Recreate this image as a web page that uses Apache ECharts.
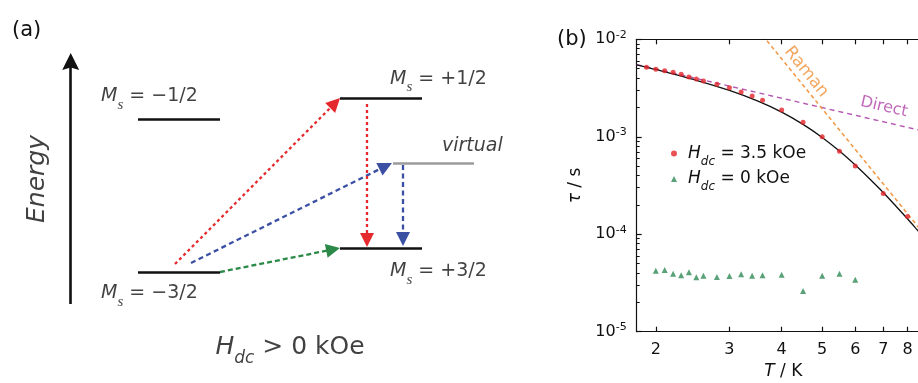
<!DOCTYPE html>
<html><head><meta charset="utf-8">
<script src="https://cdn.jsdelivr.net/npm/echarts@6/dist/echarts.min.js"></script>
<style>html,body{margin:0;padding:0;background:#fff}#c{width:918px;height:383px}</style>
</head><body><div id="c"></div><script>
// ---------- panel (b) data ----------
const tRed = [1.9,2.0,2.1,2.2,2.3,2.4,2.5,2.6,2.8,3.0,3.2,3.4,3.6,4.0,4.5,5.0,5.5,6.0,7.0,8.0];
const tauRed = [5.16e-3,4.92e-3,4.77e-3,4.59e-3,4.38e-3,4.11e-3,3.92e-3,3.74e-3,3.46e-3,3.19e-3,2.88e-3,2.62e-3,2.37e-3,1.88e-3,1.41e-3,1.00e-3,7.10e-4,5.02e-4,2.61e-4,1.52e-4];
const tGreen = [2.0,2.1,2.2,2.3,2.4,2.5,2.6,2.8,3.0,3.2,3.4,3.6,4.0,4.5,5.0,5.5,6.0];
const tauGreen = [4.23e-5,4.30e-5,3.94e-5,3.80e-5,4.07e-5,3.62e-5,3.76e-5,3.65e-5,3.73e-5,3.89e-5,3.76e-5,3.80e-5,3.85e-5,2.62e-5,3.76e-5,3.92e-5,3.42e-5];
const tFit = [1.8,2.0,2.5,3.0,3.5,4.0,4.5,5.0,5.5,6.0,6.5,7.0,7.5,8.0,8.5,9.0];
const tauFit = [5.48e-3,4.90e-3,3.80e-3,2.99e-3,2.33e-3,1.79e-3,1.34e-3,9.85e-4,7.14e-4,5.13e-4,3.69e-4,2.68e-4,1.95e-4,1.44e-4,1.07e-4,8.1e-5];
const tDirect = [1.8, 10];
const tauDirect = [5.5e-3, 1.0e-3];
const tRaman = [3.6, 10];
const tauRaman = [1.1e-2, 5.0e-5];
const xTickLabels = [2,3,4,5,6,7,8];
const yTickLabels = [1e-5,1e-4,1e-3,1e-2];
const nameRed = 'H_dc = 3.5 kOe';
const nameGreen = 'H_dc = 0 kOe';
const curveLabels = ['Raman','Direct'];
const curveLabelT = [4.58, 7.03];
const curveLabelTau = [4.62e-3, 2.02e-3];

// ---------- panel (a) schematic data (diagram units: column, energy) ----------
const levelText = ['−1/2','−3/2','+1/2','+3/2','virtual'];
const levelE = [264, 111, 285, 135, 220];
const levelFrom = [138, 138, 340, 340, 393];
const levelTo = [220, 220, 422, 422, 474];
const labelCol = [101, 101, 390, 390, 442];
const labelE = [286.5, 89.5, 304, 111.5, 237];
const arrowFromCol = [175, 191, 220, 367, 403];
const arrowFromE = [119, 120, 111, 279, 218];
const arrowToCol = [335.1, 385.7, 333.1, 367, 403];
const arrowToE = [280, 216.9, 133.6, 143, 144];
const arrowKind = ['red','blue','green','red','blue'];
const energyAxisCol = 70.7;
const energyAxisE = [79, 321.5];

const FONT = 'DejaVu Sans';
const INK = '#111111';
const COLORS = {red:'#e52a2f', blue:'#3b4fa3', green:'#2b8a47', gray:'#9b9b9b'};
const DASH = {red:[3,3], blue:[5,3.5], green:[5,3]};
const L = v => Math.log10(v);
const pts = (xs, ys) => xs.map((x, i) => [L(x), L(ys[i])]);
const minorY = [];
for (let n = -5; n < -2; n++) for (let k = 2; k < 10; k++) minorY.push(n + Math.log10(k));

const richM = {
  m:{fontFamily:FONT, fontStyle:'italic', fontSize:19, lineHeight:32, verticalAlign:'middle', color:INK},
  s:{fontFamily:'Liberation Serif', fontStyle:'italic', fontSize:15, lineHeight:12, verticalAlign:'bottom', color:INK},
  t:{fontFamily:FONT, fontSize:19, lineHeight:32, verticalAlign:'middle', color:INK},
  v:{fontFamily:FONT, fontStyle:'italic', fontSize:19, lineHeight:32, verticalAlign:'middle', color:INK}
};

const levelLabelData = levelText.map((t, i) => ({
  value:[labelCol[i], labelE[i]],
  label:{formatter: t === 'virtual' ? '{v|virtual}' : '{m|M}{s|s}{t| = ' + t + '}'}
}));

const series = [];
// levels
series.push({
  type:'lines', coordinateSystem:'cartesian2d', xAxisIndex:0, yAxisIndex:0, silent:true,
  symbol:'none',
  data: levelText.map((t, i) => ({
    coords:[[levelFrom[i], levelE[i]], [levelTo[i], levelE[i]]],
    lineStyle:{color: t === 'virtual' ? COLORS.gray : INK, width:2.6, type:'solid', opacity:1}
  }))
});
// transitions
arrowKind.forEach((k, i) => {
  series.push({
    type:'lines', coordinateSystem:'cartesian2d', xAxisIndex:0, yAxisIndex:0, silent:true,
    symbol:['none','triangle'], symbolSize:14,
    lineStyle:{color:COLORS[k], width:2.3, type:DASH[k], opacity:1},
    data:[{coords:[[arrowFromCol[i], arrowFromE[i]], [arrowToCol[i], arrowToE[i]]]}]
  });
});
// energy axis arrow
series.push({
  type:'lines', coordinateSystem:'cartesian2d', xAxisIndex:0, yAxisIndex:0, silent:true,
  symbol:['none','path://M8,0 L16,20 L8,17 L0,20 Z'], symbolSize:17,
  lineStyle:{color:INK, width:2.6, type:'solid', opacity:1},
  data:[{coords:[[energyAxisCol, energyAxisE[0]], [energyAxisCol, energyAxisE[1]]]}]
});
// level labels
series.push({
  type:'scatter', xAxisIndex:0, yAxisIndex:0, silent:true, symbolSize:1,
  itemStyle:{color:'rgba(0,0,0,0)'},
  label:{show:true, position:'inside', align:'left', verticalAlign:'middle', rich:richM},
  data: levelLabelData
});
// Energy + Hdc labels
series.push({
  type:'scatter', xAxisIndex:0, yAxisIndex:0, silent:true, symbolSize:1,
  itemStyle:{color:'rgba(0,0,0,0)'},
  data:[
    {value:[37, 204], label:{show:true, position:'inside', rotate:90, align:'center', verticalAlign:'middle',
      formatter:'Energy', fontFamily:FONT, fontStyle:'italic', fontSize:25, color:INK}},
    {value:[290, 36], label:{show:true, position:'inside', align:'center', verticalAlign:'middle',
      formatter:'{h|H}{d|dc}{t| > 0 kOe}',
      rich:{
        h:{fontFamily:FONT, fontStyle:'italic', fontSize:25, lineHeight:40, verticalAlign:'middle', color:INK},
        d:{fontFamily:FONT, fontStyle:'italic', fontSize:17, lineHeight:17, verticalAlign:'bottom', color:INK},
        t:{fontFamily:FONT, fontSize:25, lineHeight:40, verticalAlign:'middle', color:INK}
      }}}
  ]
});

// panel (b)
series.push({
  type:'line', xAxisIndex:1, yAxisIndex:1, silent:true, showSymbol:false, symbol:'none',
  lineStyle:{color:'#b456b2', width:1.4, type:[5,4]}, data:pts(tDirect, tauDirect), z:2
});
series.push({
  type:'line', xAxisIndex:1, yAxisIndex:1, silent:true, showSymbol:false, symbol:'none',
  lineStyle:{color:'#f29b4b', width:1.6, type:[4,3]}, data:pts(tRaman, tauRaman), z:2
});
series.push({
  type:'line', xAxisIndex:1, yAxisIndex:1, silent:true, showSymbol:false, symbol:'none', smooth:0.3,
  lineStyle:{color:INK, width:1.3}, data:pts(tFit, tauFit), z:3
});
series.push({
  name:nameRed, type:'scatter', xAxisIndex:1, yAxisIndex:1, silent:true,
  symbol:'circle', symbolSize:5, itemStyle:{color:'#e3262b'}, data:pts(tRed, tauRed), z:4
});
series.push({
  name:nameGreen, type:'scatter', xAxisIndex:1, yAxisIndex:1, silent:true,
  symbol:'triangle', symbolSize:6, itemStyle:{color:'#2f8a55'}, data:pts(tGreen, tauGreen), z:4
});
series.push({
  type:'scatter', xAxisIndex:1, yAxisIndex:1, silent:true, symbolSize:1,
  itemStyle:{color:'rgba(0,0,0,0)'},
  data: curveLabels.map((c, i) => ({
    value:[L(curveLabelT[i]), L(curveLabelTau[i])],
    label:{show:true, position:'inside', align:'center', verticalAlign:'middle',
      formatter:c, rotate: c === 'Raman' ? -51 : -13,
      fontFamily:FONT, fontSize: c === 'Raman' ? 17 : 16,
      color: c === 'Raman' ? '#f0923a' : '#b043a8'}
  }))
});

const tickCommon = {show:true, inside:true, length:5, lineStyle:{color:INK, width:1.2}};
const option = {
  animation:false,
  textStyle:{fontFamily:FONT, color:INK},
  grid:[
    {left:0, top:0, width:550, height:383, outerBoundsMode:'none', containLabel:false, show:false},
    {left:636.7, top:39.3, width:311.3, height:292.4, outerBoundsMode:'none', containLabel:false, show:false}
  ],
  xAxis:[
    {gridIndex:0, type:'value', min:0, max:550, show:false},
    {gridIndex:1, type:'value', position:'bottom', min:L(1.8), max:1,
      axisLine:{show:true, onZero:false, lineStyle:{color:INK, width:1.2}},
      axisTick:Object.assign({customValues:xTickLabels.map(L)}, tickCommon),
      axisLabel:{show:true, customValues:xTickLabels.map(L), margin:10, fontSize:16, color:INK, fontFamily:FONT,
        formatter:v => String(Math.round(Math.pow(10, v)))},
      splitLine:{show:false},
      name:'{i|T}{t| / K}', nameLocation:'middle', nameGap:31,
      nameTextStyle:{padding:[0,18,0,0], rich:{
        i:{fontFamily:FONT, fontStyle:'italic', fontSize:17, color:INK},
        t:{fontFamily:FONT, fontSize:17, color:INK}}}
    },
    {gridIndex:1, type:'value', position:'top', min:L(1.8), max:1,
      axisLine:{show:true, onZero:false, lineStyle:{color:INK, width:1.2}},
      axisTick:Object.assign({customValues:xTickLabels.map(L)}, tickCommon),
      axisLabel:{show:false}, splitLine:{show:false}}
  ],
  yAxis:[
    {gridIndex:0, type:'value', min:0, max:383, show:false},
    {gridIndex:1, type:'value', position:'left', min:-5, max:-2, interval:1,
      axisLine:{show:true, onZero:false, lineStyle:{color:INK, width:1.2}},
      axisTick:Object.assign({customValues:yTickLabels.map(L)}, tickCommon),
      axisLabel:{show:true, customValues:yTickLabels.map(L), margin:10, color:INK,
        formatter:v => '{b|10}{s|' + Math.round(v) + '}',
        rich:{
          b:{fontFamily:FONT, fontSize:16, lineHeight:20, verticalAlign:'middle', color:INK},
          s:{fontFamily:FONT, fontSize:11, lineHeight:11, verticalAlign:'top', color:INK}
        }},
      splitLine:{show:false},
      name:'{g|τ}{t| / s}', nameLocation:'middle', nameGap:53, nameRotate:90,
      nameTextStyle:{rich:{
        g:{fontFamily:FONT, fontStyle:'italic', fontSize:17, color:INK},
        t:{fontFamily:FONT, fontSize:17, color:INK}}}
    },
    {gridIndex:1, type:'value', position:'left', min:-5, max:-2,
      axisLine:{show:false},
      axisTick:{show:true, inside:true, length:3, customValues:minorY, lineStyle:{color:INK, width:1}},
      axisLabel:{show:false}, splitLine:{show:false}}
  ],
  legend:{
    orient:'vertical', left:666, top:140, itemWidth:6, itemHeight:6, itemGap:3,
    selectedMode:false,
    data:[{name:nameRed, icon:'circle'}, {name:nameGreen, icon:'triangle'}],
    formatter:n => '{h|H}{d|dc}{t|' + n.replace('H_dc', '') + '}',
    textStyle:{fontFamily:FONT, color:INK, rich:{
      h:{fontFamily:FONT, fontStyle:'italic', fontSize:17, lineHeight:28, verticalAlign:'middle', color:INK, padding:[0,0,0,6]},
      d:{fontFamily:FONT, fontStyle:'italic', fontSize:12, lineHeight:10, verticalAlign:'bottom', color:INK},
      t:{fontFamily:FONT, fontSize:17, lineHeight:28, verticalAlign:'middle', color:INK}
    }}
  },
  graphic:[
    {type:'text', left:12, top:20, silent:true, style:{text:'(a)', fontFamily:FONT, fontSize:21, fill:INK}},
    {type:'text', left:557, top:29, silent:true, style:{text:'(b)', fontFamily:FONT, fontSize:21, fill:INK}}
  ],
  series
};
const chart = echarts.init(document.getElementById('c'));
chart.setOption(option);
</script></body></html>
